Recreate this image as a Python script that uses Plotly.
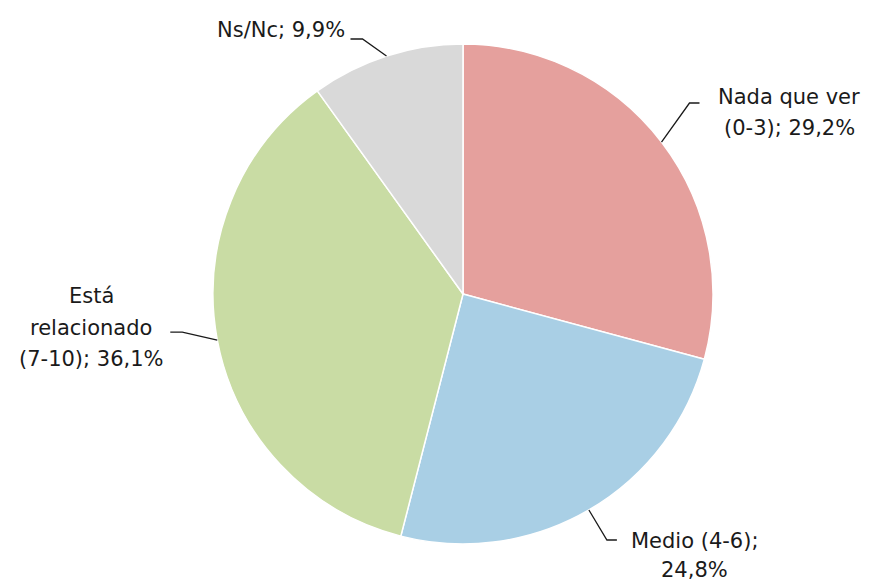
import math
import plotly.graph_objects as go

# ---- data ----
categories = ["Nada que ver (0-3)", "Medio (4-6)", "Está relacionado (7-10)", "Ns/Nc"]
values = [29.2, 24.8, 36.1, 9.9]
label_lines = [
    ["Nada que ver", "(0-3); 29,2%"],
    ["Medio (4-6);", "24,8%"],
    ["Está", "relacionado", "(7-10); 36,1%"],
    ["Ns/Nc; 9,9%"],
]

# ---- style ----
colors = ["#E5A09D", "#A9CFE5", "#C9DCA4", "#D9D9D9"]
W, H = 881, 582
CX, CY, R = 463, 294, 250
FONT = "DejaVu Sans"
FSIZE = 21
# leader geometry (pixel offsets): elbow offset from slice edge, horizontal run, label placement
leader = [
    dict(elbow=(28, -39), run=10, xanchor="center", lx=90, ly=-6, lh=31),
    dict(elbow=(18, 30), run=10, xanchor="center", lx=78, ly=1, lh=29),
    dict(elbow=(-35, -8), run=-12, xanchor="center", lx=-79, ly=-36, lh=31.5),
    dict(elbow=(-24, -17), run=-12, xanchor="right", lx=-3, ly=-9, lh=31),
]

def px(x, y):
    return x / W, 1 - y / H

fig = go.Figure(go.Pie(
    labels=categories,
    values=values,
    sort=False,
    direction="clockwise",
    rotation=0,
    marker=dict(colors=colors, line=dict(color="white", width=1.5)),
    textinfo="none",
    hoverinfo="label+percent",
    showlegend=False,
    domain=dict(x=[(CX - R) / W, (CX + R) / W], y=[1 - (CY + R) / H, 1 - (CY - R) / H]),
))

total = sum(values)
cum = 0.0
shapes = []
annotations = []
for i, v in enumerate(values):
    frac = (cum + v / 2) / total
    cum += v
    ang = 2 * math.pi * frac
    ax = CX + R * math.sin(ang)
    ay = CY - R * math.cos(ang)
    L = leader[i]
    ex, ey = ax + L["elbow"][0], ay + L["elbow"][1]
    hx = ex + L["run"]
    p0, p1, p2 = px(ax, ay), px(ex, ey), px(hx, ey)
    shapes.append(dict(
        type="path", xref="paper", yref="paper",
        path=f"M {p0[0]},{p0[1]} L {p1[0]},{p1[1]} L {p2[0]},{p2[1]}",
        line=dict(color="#1a1a1a", width=1.3),
    ))
    for k, txt in enumerate(label_lines[i]):
        tx, ty = px(hx + L["lx"], ey + L["ly"] + k * L["lh"])
        annotations.append(dict(
            x=tx, y=ty, xref="paper", yref="paper", text=txt, showarrow=False,
            xanchor=L["xanchor"], yanchor="middle",
            font=dict(family=FONT, size=FSIZE, color="#1a1a1a"),
        ))

fig.update_layout(
    width=W, height=H,
    margin=dict(l=0, r=0, t=0, b=0),
    paper_bgcolor="white",
    plot_bgcolor="white",
    shapes=shapes,
    annotations=annotations,
)

fig.write_html("out.html", config={"displayModeBar": False},
               post_script="document.body.style.margin='0';")
